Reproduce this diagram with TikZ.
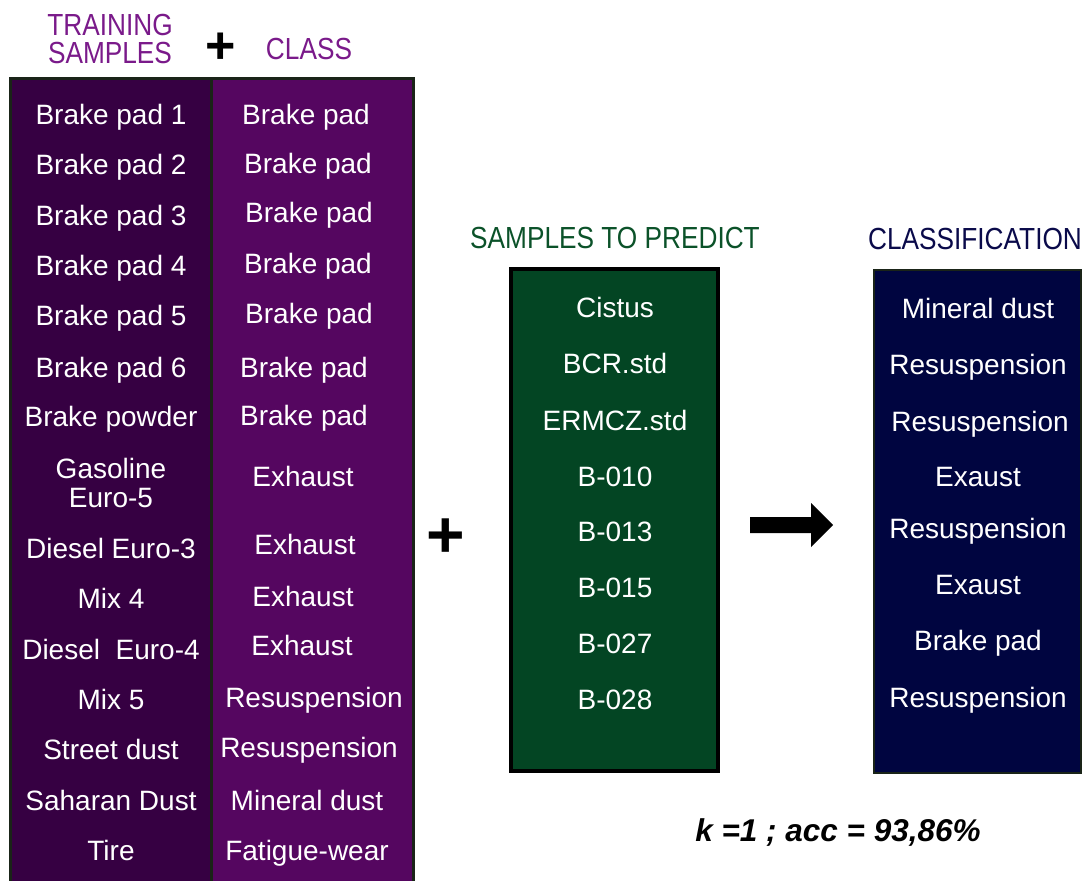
\documentclass[tikz,border=0pt]{standalone}
\usepackage{fontspec}
\setmainfont{Liberation Sans}
\newfontfamily\narrowfont[FakeStretch=0.86]{Liberation Sans}
\definecolor{trainfill}{HTML}{360042}
\definecolor{classfill}{HTML}{550660}
\definecolor{predfill}{HTML}{034523}
\definecolor{classiffill}{HTML}{000540}
\definecolor{hpurple}{HTML}{7A1A8A}
\definecolor{hgreen}{HTML}{0B5229}
\definecolor{hnavy}{HTML}{0A0A4A}
\definecolor{edgedark}{HTML}{1A2418}
\begin{document}
\begin{tikzpicture}[x=1pt,y=-1pt,
  cell/.style={text=white,font=\fontsize{28}{30}\selectfont,inner sep=0pt,align=center,text height=20pt,text depth=0pt},
  head/.style={font=\narrowfont\fontsize{30.5}{31}\selectfont,inner sep=0pt,align=center},
  plus/.style={font=\fontsize{52}{52}\selectfont\bfseries,inner sep=0pt}]
\useasboundingbox (0,0) rectangle (1082,881);
% columns
\fill[trainfill] (10,78) rectangle (211,884);
\fill[classfill] (211,78) rectangle (413,884);
\draw[edgedark,line width=3pt] (10,884) -- (10,78) -- (413,78) -- (413,884);
\draw[edgedark,line width=3pt] (211,78) -- (211,884);
\draw[black,line width=4pt,fill=predfill] (511,269) rectangle (718,771);
\draw[edgedark,line width=2.5pt,fill=classiffill] (874,270) rectangle (1081,773);
% headers
\node[head,text=hpurple] (h1) at (110,39) {TRAINING\\[-3pt]SAMPLES};
\node[plus] (p1) at (221,48) {+};
\node[head,text=hpurple] (h2) at (309,49) {CLASS};
\node[head,text=hgreen] (h3) at (615,238) {SAMPLES TO PREDICT};
\node[head,text=hnavy] (h4) at (975,239) {CLASSIFICATION};
% training samples
\node[cell] (t1) at (111,114) {Brake pad 1};
\node[cell] (t2) at (111,164) {Brake pad 2};
\node[cell] (t3) at (111,215) {Brake pad 3};
\node[cell] (t4) at (111,265) {Brake pad 4};
\node[cell] (t5) at (111,315) {Brake pad 5};
\node[cell] (t6) at (111,367) {Brake pad 6};
\node[cell] (t7) at (111,416) {Brake powder};
\node[cell] (t8) at (111,468) {Gasoline};
\node[cell] (t8b) at (111,497) {Euro-5};
\node[cell] (t9) at (111,548) {Diesel Euro-3};
\node[cell] (t10) at (111,598) {Mix 4};
\node[cell] (t11) at (111,649) {Diesel\ \ Euro-4};
\node[cell] (t12) at (111,699) {Mix 5};
\node[cell] (t13) at (111,749) {Street dust};
\node[cell] (t14) at (111,800) {Saharan Dust};
\node[cell] (t15) at (111,850) {Tire};
% classes
\node[cell] (c1) at (306,114) {Brake pad};
\node[cell] (c2) at (308,163) {Brake pad};
\node[cell] (c3) at (309,212) {Brake pad};
\node[cell] (c4) at (308,263) {Brake pad};
\node[cell] (c5) at (309,313) {Brake pad};
\node[cell] (c6) at (304,367) {Brake pad};
\node[cell] (c7) at (304,415) {Brake pad};
\node[cell] (c8) at (303,476) {Exhaust};
\node[cell] (c9) at (305,544) {Exhaust};
\node[cell] (c10) at (303,596) {Exhaust};
\node[cell] (c11) at (302,645) {Exhaust};
\node[cell] (c12) at (314,697) {Resuspension};
\node[cell] (c13) at (309,747) {Resuspension};
\node[cell] (c14) at (307,800) {Mineral dust};
\node[cell] (c15) at (307,850) {Fatigue-wear};
% plus
\node[font=\fontsize{66}{66}\selectfont\bfseries,inner sep=0pt] (p2) at (446,538) {+};
% samples to predict
\node[cell] (s1) at (615,307) {Cistus};
\node[cell] (s2) at (615,363) {BCR.std};
\node[cell] (s3) at (615,420) {ERMCZ.std};
\node[cell] (s4) at (615,476) {B-010};
\node[cell] (s5) at (615,531) {B-013};
\node[cell] (s6) at (615,587) {B-015};
\node[cell] (s7) at (615,643) {B-027};
\node[cell] (s8) at (615,699) {B-028};
% classification
\node[cell] (r1) at (978,308) {Mineral dust};
\node[cell] (r2) at (978,364) {Resuspension};
\node[cell] (r3) at (980,421) {Resuspension};
\node[cell] (r4) at (978,476) {Exaust};
\node[cell] (r5) at (978,528) {Resuspension};
\node[cell] (r6) at (978,584) {Exaust};
\node[cell] (r7) at (978,640) {Brake pad};
\node[cell] (r8) at (978,697) {Resuspension};
% arrow
\coordinate (a0) at (750,525);
\coordinate (a1) at (833,525);
\fill[black] (a0) ++(0,-8) -- ++(61,0) -- ++(0,-14) -- (a1) -- ++(-22,22) -- ++(0,-14) -- ++(-61,0) -- cycle;
% result
\node[font=\fontsize{31.5}{33}\selectfont\bfseries\itshape,inner sep=0pt] (res) at (838,833) {k =1 ; acc = 93,86\%};
\end{tikzpicture}
\end{document}
